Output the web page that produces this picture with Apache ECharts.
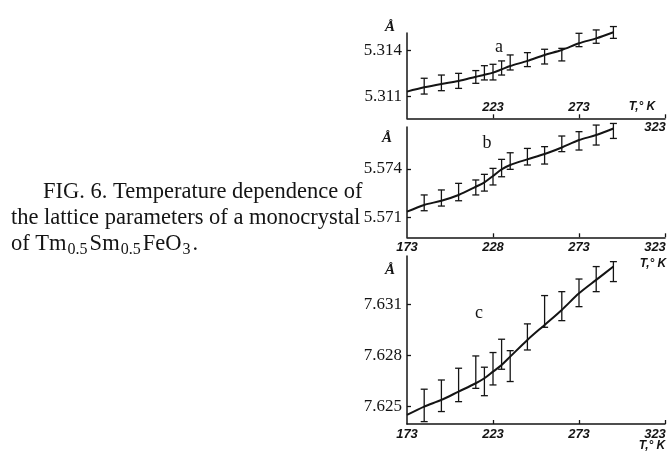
<!DOCTYPE html>
<html>
<head>
<meta charset="utf-8">
<script src="https://cdn.jsdelivr.net/npm/echarts@6/dist/echarts.min.js"></script>
<style>
  html, body { margin: 0; padding: 0; background: #fff; }
  #chart { width: 669px; height: 457px; }
</style>
</head>
<body>
<div id="chart"></div>
<script>
// temperatures of the measured points, K
const temps = [183, 193, 203, 213, 218, 223, 228, 233, 243, 253, 263, 273, 283, 293];
// temperatures for the drawn curve (starts at the axis)
const fitTemps = [173, 183, 193, 203, 213, 218, 223, 228, 233, 243, 253, 263, 273, 283, 293];

// a
const aLow  = [5.31117, 5.31139, 5.31154, 5.31187, 5.31209, 5.31209, 5.31241, 5.31274, 5.31296, 5.31313, 5.31333, 5.31426, 5.31448, 5.31480];
const aHigh = [5.31220, 5.31241, 5.31252, 5.31270, 5.31302, 5.31311, 5.31333, 5.31372, 5.31387, 5.31409, 5.31415, 5.31513, 5.31535, 5.31557];
const aFit  = [5.31133, 5.31161, 5.31183, 5.31202, 5.31230, 5.31243, 5.31257, 5.31278, 5.31300, 5.31333, 5.31372, 5.31404, 5.31448, 5.31480, 5.31520];

// b
const bLow  = [5.57141, 5.57170, 5.57203, 5.57239, 5.57263, 5.57301, 5.57352, 5.57398, 5.57425, 5.57431, 5.57508, 5.57518, 5.57549, 5.57590];
const bHigh = [5.57239, 5.57270, 5.57311, 5.57332, 5.57367, 5.57404, 5.57460, 5.57501, 5.57528, 5.57539, 5.57605, 5.57632, 5.57673, 5.57683];
const bFit  = [5.57135, 5.57177, 5.57203, 5.57239, 5.57290, 5.57317, 5.57357, 5.57398, 5.57425, 5.57460, 5.57493, 5.57534, 5.57580, 5.57611, 5.57652];

// c
const cLow  = [7.62412, 7.62471, 7.62529, 7.62607, 7.62564, 7.62627, 7.62719, 7.62647, 7.62832, 7.62965, 7.63004, 7.63086, 7.63174, 7.63233];
const cHigh = [7.62602, 7.62656, 7.62725, 7.62797, 7.62731, 7.62817, 7.62895, 7.62828, 7.62985, 7.63151, 7.63174, 7.63248, 7.63321, 7.63350];
const cFit  = [7.62451, 7.62500, 7.62539, 7.62588, 7.62637, 7.62666, 7.62705, 7.62744, 7.62793, 7.62891, 7.62979, 7.63067, 7.63164, 7.63243, 7.63321];

// tick labels
const yTicksA = [5.311, 5.314];
const yTicksB = [5.571, 5.574];
const yTicksC = [7.625, 7.628, 7.631];
const xTicksA = [223, 273];
const xTicksAll = [173, 223, 273, 323];
const xLabelsB = ['173', '228', '273', '323'];
const xLabelsC = ['173', '223', '273', '323'];

const ink = '#141414';
const serif = 'Liberation Serif';
const tickFont = 'Liberation Sans';

function errRender(params, api) {
  const lo = api.coord([api.value(0), api.value(1)]);
  const hi = api.coord([api.value(0), api.value(2)]);
  const cap = 3.5;
  const st = { stroke: ink, lineWidth: 1.3 };
  return {
    type: 'group',
    children: [
      { type: 'line', shape: { x1: lo[0], y1: lo[1], x2: hi[0], y2: hi[1] }, style: st },
      { type: 'line', shape: { x1: lo[0] - cap, y1: lo[1], x2: lo[0] + cap, y2: lo[1] }, style: st },
      { type: 'line', shape: { x1: hi[0] - cap, y1: hi[1], x2: hi[0] + cap, y2: hi[1] }, style: st }
    ]
  };
}

function zip3(t, lo, hi) {
  return t.map((v, i) => [v, lo[i], hi[i]]);
}
function zip2(t, y) {
  return t.map((v, i) => [v, y[i]]);
}

const gridLeft = 407, gridW = 258;
const grids = [
  { left: gridLeft, width: gridW, top: 33, height: 85.3, outerBoundsMode: 'none' },
  { left: gridLeft, width: gridW, top: 127, height: 110.3, outerBoundsMode: 'none' },
  { left: gridLeft, width: gridW, top: 256, height: 168, outerBoundsMode: 'none' },
  { left: gridLeft, width: gridW, top: 33, height: 85.3, outerBoundsMode: 'none' } // extra label row of a
];

// last label sits a little left of its tick, as in the print
const endRich = { e: { padding: [0, 20, 0, 0] } };
function xFmt(labels) {
  return v => {
    const s = labels[xTicksAll.indexOf(v)];
    return v === 323 ? '{e|' + s + '}' : s;
  };
}

function xAxisBase(gridIndex) {
  return {
    type: 'value', gridIndex, min: 173, max: 323,
    splitLine: { show: false },
    axisLine: { show: true, lineStyle: { color: ink, width: 1.5 } },
    axisTick: { show: true, inside: true, length: 4, lineStyle: { color: ink, width: 1.3 } },
    axisLabel: { color: ink, fontFamily: tickFont, fontStyle: 'italic', fontWeight: 'bold', fontSize: 13, rich: endRich }
  };
}
function yAxisBase(gridIndex, min, max, ticks) {
  return {
    type: 'value', gridIndex, min, max,
    splitLine: { show: false },
    axisLine: { show: true, lineStyle: { color: ink, width: 1.5 } },
    axisTick: { show: true, inside: true, length: 4, customValues: ticks, lineStyle: { color: ink, width: 1.3 } },
    axisLabel: {
      customValues: ticks, color: ink, fontFamily: serif, fontSize: 17, margin: 5,
      formatter: v => v.toFixed(3)
    }
  };
}

const xA = xAxisBase(0);
xA.axisTick.customValues = [223, 273, 323];
xA.axisLabel.customValues = xTicksA;
xA.axisLabel.inside = true;
xA.axisLabel.margin = 4;

const xA2 = xAxisBase(3);
xA2.axisLine.show = false;
xA2.axisTick.show = false;
xA2.axisLabel.customValues = [323];
xA2.axisLabel.margin = 3;
xA2.axisLabel.formatter = xFmt(xLabelsC);

const xB = xAxisBase(1);
xB.axisTick.customValues = [223, 273, 323];
xB.axisLabel.customValues = xTicksAll;
xB.axisLabel.margin = 4;
xB.axisLabel.formatter = xFmt(xLabelsB);

const xC = xAxisBase(2);
xC.axisTick.customValues = [223, 273, 323];
xC.axisLabel.customValues = xTicksAll;
xC.axisLabel.margin = 4;
xC.axisLabel.formatter = xFmt(xLabelsC);

const yA = yAxisBase(0, 5.30959, 5.31515, yTicksA);
const yB = yAxisBase(1, 5.56976, 5.57661, yTicksB);
const yC = yAxisBase(2, 7.62398, 7.63383, yTicksC);
const yA2 = { type: 'value', gridIndex: 3, min: 5.30959, max: 5.31515, show: false };

function fitSeries(axis, data) {
  return {
    type: 'line', xAxisIndex: axis, yAxisIndex: axis, data,
    smooth: 0.3, showSymbol: false, clip: false, silent: true,
    lineStyle: { color: ink, width: 2 }
  };
}
function errSeries(axis, data) {
  return {
    type: 'custom', xAxisIndex: axis, yAxisIndex: axis, data,
    renderItem: errRender, clip: false, silent: true,
    encode: { x: 0, y: [1, 2] }
  };
}

function label(text, x, y, style) {
  return {
    type: 'text', x, y, silent: true,
    style: Object.assign({ text, fill: ink, align: 'center', verticalAlign: 'middle' }, style)
  };
}

const capStyle = { fontFamily: serif, fontSize: 22.5, align: 'left' };
const angstrom = { fontFamily: serif, fontSize: 15, fontWeight: 'bold', fontStyle: 'italic' };
const letter = { fontFamily: serif, fontSize: 18 };
const unit = { fontFamily: tickFont, fontSize: 12, fontStyle: 'italic', fontWeight: 'bold' };

const chart = echarts.init(document.getElementById('chart'));
chart.setOption({
  animation: false,
  backgroundColor: '#fff',
  grid: grids,
  xAxis: [xA, xB, xC, xA2],
  yAxis: [yA, yB, yC, yA2],
  series: [
    fitSeries(0, zip2(fitTemps, aFit)),
    errSeries(0, zip3(temps, aLow, aHigh)),
    fitSeries(1, zip2(fitTemps, bFit)),
    errSeries(1, zip3(temps, bLow, bHigh)),
    fitSeries(2, zip2(fitTemps, cFit)),
    errSeries(2, zip3(temps, cLow, cHigh))
  ],
  graphic: [
    label('FIG. 6. Temperature dependence of', 43, 192, capStyle),
    label('the lattice parameters of a monocrystal', 11, 218, capStyle),
    {
      type: 'text', x: 11, y: 244, silent: true,
      style: {
        text: 'of Tm{s|0.5}Sm{s|0.5}FeO{s|3}.',
        fill: ink, fontFamily: serif, fontSize: 22.5, verticalAlign: 'middle',
        rich: { s: { fontFamily: serif, fontSize: 16, padding: [11, 2, 0, 1], fill: ink } }
      }
    },
    label('Å', 390, 27, angstrom),
    label('Å', 387, 138, angstrom),
    label('Å', 390, 270, angstrom),
    label('a', 499, 47, letter),
    label('b', 487, 143, letter),
    label('c', 479, 313, letter),
    label('T,° K', 642, 107, unit),
    label('T,° K', 653, 264, unit),
    label('T,° K', 652, 446, unit)
  ]
});
</script>
</body>
</html>
